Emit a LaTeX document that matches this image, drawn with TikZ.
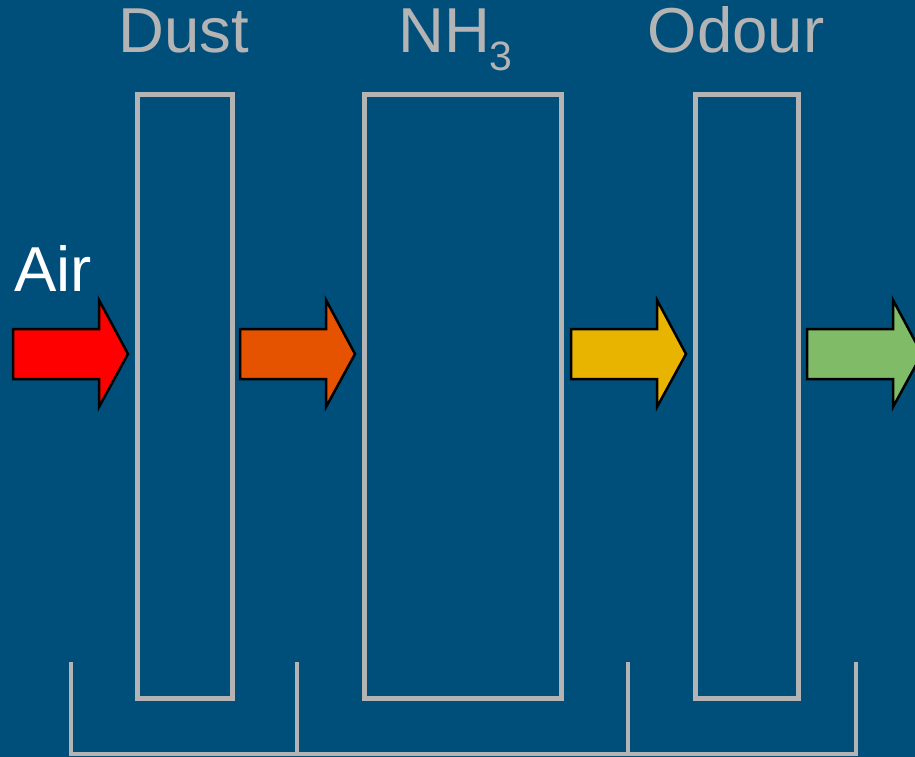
\documentclass[tikz,border=0pt]{standalone}
\usepackage{fontspec}
\setmainfont{Liberation Sans}
\definecolor{bgblue}{HTML}{004E7A}
\definecolor{lgray}{HTML}{B4B4B4}
\definecolor{aorange}{HTML}{E65300}
\definecolor{ayellow}{HTML}{E8B400}
\definecolor{agreen}{HTML}{80BB67}
\begin{document}
\begin{tikzpicture}[x=1pt,y=-1pt,
  filterbox/.style={draw=lgray,line width=5pt},
  bracket/.style={draw=lgray,line width=4pt},
  label/.style={text=lgray,font=\fontsize{63.5}{63.5}\selectfont,inner sep=0pt},
  flowarrow/.style={draw=black,line width=2.5pt,line join=miter}]
\fill[bgblue] (0,0) rectangle (915,757);
\useasboundingbox (0,0) rectangle (915,757);
% filter boxes
\draw[filterbox] (137,95) rectangle (232,698);
\draw[filterbox] (364,95) rectangle (561,698);
\draw[filterbox] (695,95) rectangle (798,698);
% labels
\node[label,anchor=base] (dust) at (184,53) {Dust};
\node[label,anchor=base west] (nh3) at (398,53) {NH\raisebox{-18pt}{\fontsize{41}{41}\selectfont 3}};
\node[label,anchor=base] (odour) at (736,53) {Odour};
\node[label,text=white,anchor=base west] (air) at (14,291) {Air};
% arrows
\newcommand{\flowarr}[3]{%
  \draw[flowarrow,fill=#3] (#1,329) -- (#2,329) -- (#2,300) -- (#2+29,354) -- (#2,407) -- (#2,379) -- (#1,379) -- cycle;}
\flowarr{13}{99}{red}
\flowarr{240}{326}{aorange}
\flowarr{571}{657}{ayellow}
\flowarr{807}{893}{agreen}
% bracket
\draw[bracket] (71,662) -- (71,754) -- (856,754) -- (856,662);
\draw[bracket] (297,662) -- (297,754);
\draw[bracket] (628,662) -- (628,754);
\end{tikzpicture}
\end{document}
